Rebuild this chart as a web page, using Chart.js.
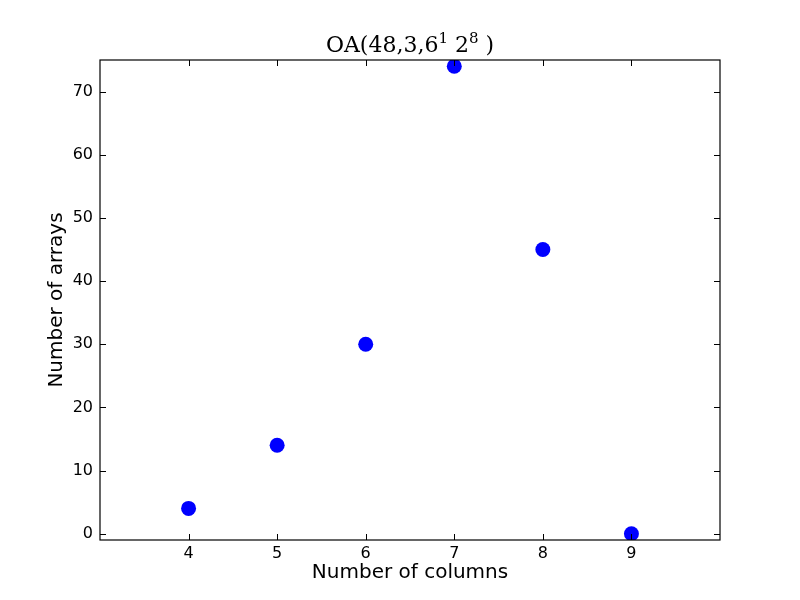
<!DOCTYPE html>
<html>
<head>
<meta charset="utf-8">
<script src="https://cdn.jsdelivr.net/npm/chart.js@4"></script>
<style>
  html, body { margin: 0; padding: 0; background: #ffffff; }
  #wrap { width: 800px; height: 600px; }
</style>
</head>
<body>
<div id="wrap"><canvas id="oaChart" width="800" height="600"></canvas></div>
<script>
const columns = [4, 5, 6, 7, 8, 9];
const arrays = [4, 14, 30, 74, 45, 0];
const yTicks = [0, 10, 20, 30, 40, 50, 60, 70];

// matplotlib style: tick marks pointing inward on all four sides
const innerTicks = {
    id: 'innerTicks',
    afterDraw(chart) {
        const ctx = chart.ctx;
        const a = chart.chartArea;
        const xs = chart.scales.x, ys = chart.scales.y;
        ctx.save();
        ctx.strokeStyle = '#000';
        ctx.lineWidth = 1;
        ctx.beginPath();
        xs.ticks.forEach(t => {
            const px = Math.round(xs.getPixelForValue(t.value)) + 0.5;
            ctx.moveTo(px, a.bottom); ctx.lineTo(px, a.bottom - 6);
            ctx.moveTo(px, a.top); ctx.lineTo(px, a.top + 6);
        });
        ys.ticks.forEach(t => {
            const py = Math.round(ys.getPixelForValue(t.value)) + 0.5;
            ctx.moveTo(a.left, py); ctx.lineTo(a.left + 6, py);
            ctx.moveTo(a.right, py); ctx.lineTo(a.right - 6, py);
        });
        ctx.stroke();
        ctx.lineWidth = 1.2;
        ctx.strokeRect(a.left, a.top, a.right - a.left, a.bottom - a.top);

        // title with superscripts
        const parts = [['OA(48,3,6', 0], ['1', 1], [' 2', 0], ['8', 1], [' )', 0]];
        const big = '22px "DejaVu Serif"', small = '15px "DejaVu Serif"';
        let w = 0;
        parts.forEach(p => { ctx.font = p[1] ? small : big; w += ctx.measureText(p[0]).width; });
        let x = (a.left + a.right) / 2 - w / 2;
        const base = 52;
        ctx.fillStyle = '#000';
        ctx.textBaseline = 'alphabetic';
        ctx.textAlign = 'left';
        parts.forEach(p => {
            ctx.font = p[1] ? small : big;
            ctx.fillText(p[0], x, p[1] ? base - 9 : base);
            x += ctx.measureText(p[0]).width;
        });
        ctx.restore();
    }
};

const points = columns.map((c, i) => ({ x: c, y: arrays[i] }));

new Chart(document.getElementById('oaChart'), {
    type: 'scatter',
    data: {
        datasets: [{
            data: points,
            backgroundColor: '#0000ff',
            borderColor: '#0000ff',
            pointRadius: 7.5,
            pointHoverRadius: 7.5,
            borderWidth: 0
        }]
    },
    options: {
        responsive: false,
        animation: false,
        layout: { padding: { top: 60, right: 80, left: 0, bottom: 0 } },
        plugins: {
            legend: { display: false },
            tooltip: { enabled: false }
        },
        scales: {
            x: {
                type: 'linear',
                min: 3,
                max: 10,
                afterFit(scale) { scale.height = 60; },
                afterBuildTicks(scale) { scale.ticks = columns.map(v => ({ value: v })); },
                grid: { display: false, drawTicks: false, tickLength: 0 },
                border: { display: false },
                ticks: {
                    color: '#000',
                    padding: 4,
                    font: { family: '"DejaVu Sans"', size: 16 }
                },
                title: {
                    display: true,
                    text: 'Number of columns',
                    color: '#000',
                    font: { family: '"DejaVu Sans"', size: 20 },
                    padding: { top: 0, bottom: 15 }
                }
            },
            y: {
                min: -1,
                max: 75,
                afterFit(scale) { scale.width = 100; },
                afterBuildTicks(scale) { scale.ticks = yTicks.map(v => ({ value: v })); },
                grid: { display: false, drawTicks: false, tickLength: 0 },
                border: { display: false },
                ticks: {
                    color: '#000',
                    padding: 7,
                    font: { family: '"DejaVu Sans"', size: 16 }
                },
                title: {
                    display: true,
                    text: 'Number of arrays',
                    color: '#000',
                    font: { family: '"DejaVu Sans"', size: 20 },
                    padding: { top: 45, bottom: 0 }
                }
            }
        }
    },
    plugins: [innerTicks]
});
</script>
</body>
</html>
